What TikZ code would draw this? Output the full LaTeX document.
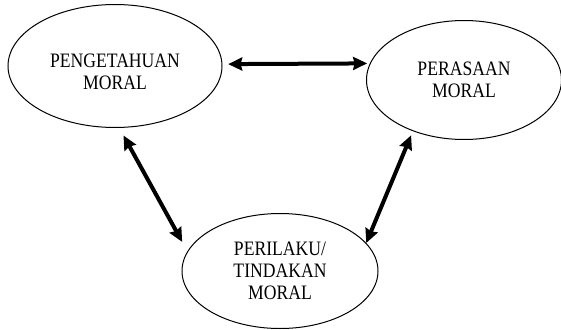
\documentclass[tikz,border=0pt]{standalone}
\usepackage{fontspec}
\setmainfont{Liberation Serif}[FakeStretch=0.86]
\usetikzlibrary{arrows.meta,shapes.geometric}
\definecolor{ink}{HTML}{000000}
\newcommand{\aspekfont}{\fontsize{20.5}{22}\selectfont}
\tikzset{
 every node/.append style={font=\aspekfont,text=ink,align=center},
 aspek/.style={ellipse,draw=ink,line width=1pt,inner sep=0pt},
 link/.style={{Stealth[length=14pt,width=13pt,inset=1.5pt]}-{Stealth[length=14pt,width=13pt,inset=1.5pt]},draw=ink,line width=4pt},
}
\begin{document}
\begin{tikzpicture}[x=1pt,y=-1pt]

\useasboundingbox (0,0) rectangle (561,329);
\node[aspek,minimum width=214pt,minimum height=123pt,label={[yshift=-6pt]center:PENGETAHUAN\\MORAL}] (pengetahuan) at (115,66) {};
\node[aspek,minimum width=195pt,minimum height=119pt] (perasaan) at (464,80) {PERASAAN\\MORAL};
\node[aspek,minimum width=196pt,minimum height=115pt] (perilaku) at (280,271) {PERILAKU/\\TINDAKAN\\MORAL};
\draw[link,shorten <=5.7pt,shorten >=2.7pt] (pengetahuan.1) -- (perasaan.170);
\draw[link,shorten <=8.6pt,shorten >=10.7pt] (pengetahuan.-86) -- (perilaku.168.5);
\draw[link,shorten <=4.5pt] (perasaan.225) -- (perilaku.18);

\end{tikzpicture}
\end{document}
